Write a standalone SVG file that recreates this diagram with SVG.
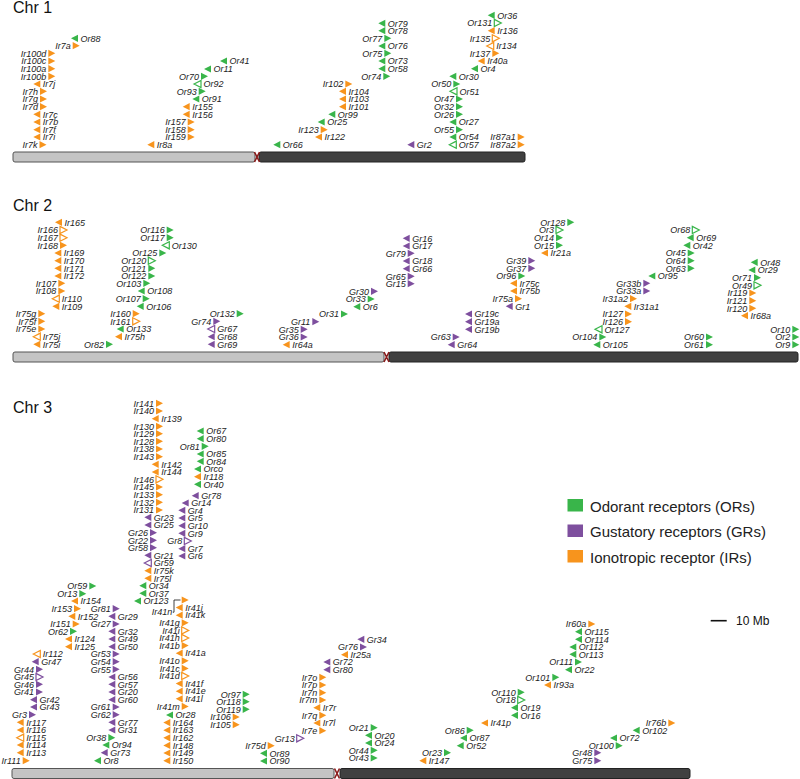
<svg xmlns="http://www.w3.org/2000/svg" xmlns:xlink="http://www.w3.org/1999/xlink" width="800" height="779" viewBox="0 0 800 779">
<style>
text{font-family:"Liberation Sans",Arial,sans-serif}
.n text{font-size:9px;font-style:italic;fill:#222}
.R text{text-anchor:end}
.g{color:#39b54a}.p{color:#7e4f9e}.o{color:#f7941d}
.n use{fill:currentColor}
.h use{fill:#fff;stroke:currentColor;stroke-width:1.2}
.t{font-size:16px;fill:#111}
.lg{font-size:15px;fill:#222}
.a1{fill:#c4c4c4;stroke:#555;stroke-width:1}
.a2{fill:#404040;stroke:#222;stroke-width:1}
.cen{stroke:#8b1a1a;stroke-width:1.6;fill:none}
</style>
<defs>
<path id="R" d="M0-3.6L7 0L0 3.6Z"/>
<path id="L" d="M0 0L7-3.6L7 3.6Z"/>
</defs>
<rect width="800" height="779" fill="#fff"/>
<text class="t" x="13" y="13.3">Chr 1</text>
<text class="t" x="13" y="210.5">Chr 2</text>
<text class="t" x="13" y="413.3">Chr 3</text>
<g id="chromosomes">
<rect class="a1" x="13" y="152" width="242" height="10" rx="2"/>
<rect class="a2" x="259" y="152" width="266" height="10" rx="2"/>
<path class="cen" d="M254.5 152L259.5 162M259.5 152L254.5 162"/>
<rect class="a1" x="13" y="352" width="371" height="10" rx="2"/>
<rect class="a2" x="389" y="352" width="409" height="10" rx="2"/>
<path class="cen" d="M384 352L389 362M389 352L384 362"/>
<rect class="a1" x="12" y="768.5" width="322" height="10" rx="2"/>
<rect class="a2" x="340" y="768.5" width="350" height="10" rx="2"/>
<path class="cen" d="M334.5 768.5L339.5 778.5M339.5 768.5L334.5 778.5"/>
</g>
<g id="connectors">
<path d="M172.8 612.2H174V600H180.5" fill="none" stroke="#111" stroke-width="0.8"/>
</g>
<g id="chr1">
<g id="Or88" class="n L g" transform="translate(71 38.3)"><use href="#L"/><text x="9.5" y="3.2">Or88</text></g>
<g id="Ir7a" class="n R o" transform="translate(72.7 45.7)"><use href="#R"/><text x="-2" y="3.2">Ir7a</text></g>
<g id="Ir100d" class="n R o" transform="translate(48.3 53.3)"><use href="#R"/><text x="-2" y="3.2">Ir100d</text></g>
<g id="Ir100c" class="n R o" transform="translate(48.3 61)"><use href="#R"/><text x="-2" y="3.2">Ir100c</text></g>
<g id="Ir100a" class="n R o" transform="translate(48.3 68.7)"><use href="#R"/><text x="-2" y="3.2">Ir100a</text></g>
<g id="Ir100b" class="n R o" transform="translate(48.3 76.3)"><use href="#R"/><text x="-2" y="3.2">Ir100b</text></g>
<g id="Ir7j" class="n L o" transform="translate(33.3 84)"><use href="#L"/><text x="9.5" y="3.2">Ir7j</text></g>
<g id="Ir7h" class="n R o" transform="translate(40 91.3)"><use href="#R"/><text x="-2" y="3.2">Ir7h</text></g>
<g id="Ir7g" class="n R o" transform="translate(40 99)"><use href="#R"/><text x="-2" y="3.2">Ir7g</text></g>
<g id="Ir7d" class="n R o" transform="translate(40 106.7)"><use href="#R"/><text x="-2" y="3.2">Ir7d</text></g>
<g id="Ir7c" class="n L o" transform="translate(33.3 114.3)"><use href="#L"/><text x="9.5" y="3.2">Ir7c</text></g>
<g id="Ir7b" class="n L o" transform="translate(33.3 122)"><use href="#L"/><text x="9.5" y="3.2">Ir7b</text></g>
<g id="Ir7f" class="n L o" transform="translate(33.3 129.7)"><use href="#L"/><text x="9.5" y="3.2">Ir7f</text></g>
<g id="Ir7i" class="n L o" transform="translate(33.3 137)"><use href="#L"/><text x="9.5" y="3.2">Ir7i</text></g>
<g id="Ir7k" class="n R o" transform="translate(39.5 144.7)"><use href="#R"/><text x="-2" y="3.2">Ir7k</text></g>
<g id="Or41" class="n L g" transform="translate(220 61)"><use href="#L"/><text x="9.5" y="3.2">Or41</text></g>
<g id="Or11" class="n L g" transform="translate(204 69)"><use href="#L"/><text x="9.5" y="3.2">Or11</text></g>
<g id="Or70" class="n R g" transform="translate(201 76.3)"><use href="#R"/><text x="-2" y="3.2">Or70</text></g>
<g id="Or92" class="n L g h" transform="translate(194 84)"><use href="#L"/><text x="9.5" y="3.2">Or92</text></g>
<g id="Or93" class="n R g" transform="translate(198.7 91.3)"><use href="#R"/><text x="-2" y="3.2">Or93</text></g>
<g id="Or91" class="n L g" transform="translate(192.3 99)"><use href="#L"/><text x="9.5" y="3.2">Or91</text></g>
<g id="Ir155" class="n L o" transform="translate(182.7 106.7)"><use href="#L"/><text x="9.5" y="3.2">Ir155</text></g>
<g id="Ir156" class="n L o" transform="translate(182.7 114.3)"><use href="#L"/><text x="9.5" y="3.2">Ir156</text></g>
<g id="Ir157" class="n R o" transform="translate(187.7 122)"><use href="#R"/><text x="-2" y="3.2">Ir157</text></g>
<g id="Ir158" class="n R o" transform="translate(187.7 129.7)"><use href="#R"/><text x="-2" y="3.2">Ir158</text></g>
<g id="Ir159" class="n R o" transform="translate(187.7 137)"><use href="#R"/><text x="-2" y="3.2">Ir159</text></g>
<g id="Ir8a" class="n L o" transform="translate(147.3 144.7)"><use href="#L"/><text x="9.5" y="3.2">Ir8a</text></g>
<g id="Or79" class="n L g" transform="translate(378.3 23.3)"><use href="#L"/><text x="9.5" y="3.2">Or79</text></g>
<g id="Or78" class="n L g" transform="translate(378.3 30.7)"><use href="#L"/><text x="9.5" y="3.2">Or78</text></g>
<g id="Or77" class="n R g" transform="translate(384.3 38.3)"><use href="#R"/><text x="-2" y="3.2">Or77</text></g>
<g id="Or76" class="n L g" transform="translate(378.3 46)"><use href="#L"/><text x="9.5" y="3.2">Or76</text></g>
<g id="Or75" class="n R g" transform="translate(384.3 53.3)"><use href="#R"/><text x="-2" y="3.2">Or75</text></g>
<g id="Or73" class="n L g" transform="translate(378.3 61)"><use href="#L"/><text x="9.5" y="3.2">Or73</text></g>
<g id="Or58" class="n L g" transform="translate(378.3 68.7)"><use href="#L"/><text x="9.5" y="3.2">Or58</text></g>
<g id="Or74" class="n R g" transform="translate(383.3 76.3)"><use href="#R"/><text x="-2" y="3.2">Or74</text></g>
<g id="Ir102" class="n R o" transform="translate(345.3 84)"><use href="#R"/><text x="-2" y="3.2">Ir102</text></g>
<g id="Ir104" class="n L o" transform="translate(339 91.3)"><use href="#L"/><text x="9.5" y="3.2">Ir104</text></g>
<g id="Ir103" class="n L o" transform="translate(339 99)"><use href="#L"/><text x="9.5" y="3.2">Ir103</text></g>
<g id="Ir101" class="n L o" transform="translate(339 106.7)"><use href="#L"/><text x="9.5" y="3.2">Ir101</text></g>
<g id="Or99" class="n L g" transform="translate(328.3 114.3)"><use href="#L"/><text x="9.5" y="3.2">Or99</text></g>
<g id="Or25" class="n L g" transform="translate(317.7 122)"><use href="#L"/><text x="9.5" y="3.2">Or25</text></g>
<g id="Ir123" class="n R o" transform="translate(320.7 129.7)"><use href="#R"/><text x="-2" y="3.2">Ir123</text></g>
<g id="Ir122" class="n L o" transform="translate(315 137)"><use href="#L"/><text x="9.5" y="3.2">Ir122</text></g>
<g id="Or66" class="n L g" transform="translate(273.3 144.7)"><use href="#L"/><text x="9.5" y="3.2">Or66</text></g>
<g id="Gr2" class="n L p" transform="translate(407.3 144.7)"><use href="#L"/><text x="9.5" y="3.2">Gr2</text></g>
<g id="Or36" class="n L g" transform="translate(487.7 15.3)"><use href="#L"/><text x="9.5" y="3.2">Or36</text></g>
<g id="Or131" class="n R g h" transform="translate(494.3 23)"><use href="#R"/><text x="-2" y="3.2">Or131</text></g>
<g id="Ir136" class="n L o" transform="translate(487.7 30.7)"><use href="#L"/><text x="9.5" y="3.2">Ir136</text></g>
<g id="Ir135" class="n R o h" transform="translate(492.3 38.3)"><use href="#R"/><text x="-2" y="3.2">Ir135</text></g>
<g id="Ir134" class="n L o h" transform="translate(486.7 46)"><use href="#L"/><text x="9.5" y="3.2">Ir134</text></g>
<g id="Ir137" class="n R o" transform="translate(492.3 53.3)"><use href="#R"/><text x="-2" y="3.2">Ir137</text></g>
<g id="Ir40a" class="n L o" transform="translate(477.7 61)"><use href="#L"/><text x="9.5" y="3.2">Ir40a</text></g>
<g id="Or4" class="n L g" transform="translate(471 68.7)"><use href="#L"/><text x="9.5" y="3.2">Or4</text></g>
<g id="Or30" class="n L g" transform="translate(449.3 76.3)"><use href="#L"/><text x="9.5" y="3.2">Or30</text></g>
<g id="Or50" class="n R g" transform="translate(453.3 84)"><use href="#R"/><text x="-2" y="3.2">Or50</text></g>
<g id="Or51" class="n L g h" transform="translate(450 91.3)"><use href="#L"/><text x="9.5" y="3.2">Or51</text></g>
<g id="Or47" class="n R g" transform="translate(456 99)"><use href="#R"/><text x="-2" y="3.2">Or47</text></g>
<g id="Or32" class="n R g" transform="translate(456 106.7)"><use href="#R"/><text x="-2" y="3.2">Or32</text></g>
<g id="Or26" class="n R g" transform="translate(456 114.3)"><use href="#R"/><text x="-2" y="3.2">Or26</text></g>
<g id="Or27" class="n L g" transform="translate(449.3 122)"><use href="#L"/><text x="9.5" y="3.2">Or27</text></g>
<g id="Or55" class="n R g" transform="translate(456 129.7)"><use href="#R"/><text x="-2" y="3.2">Or55</text></g>
<g id="Or54" class="n L g" transform="translate(449.3 137)"><use href="#L"/><text x="9.5" y="3.2">Or54</text></g>
<g id="Or57" class="n L g h" transform="translate(449.3 144.7)"><use href="#L"/><text x="9.5" y="3.2">Or57</text></g>
<g id="Ir87a1" class="n R o" transform="translate(517.7 137)"><use href="#R"/><text x="-2" y="3.2">Ir87a1</text></g>
<g id="Ir87a2" class="n R o" transform="translate(517.7 144.7)"><use href="#R"/><text x="-2" y="3.2">Ir87a2</text></g>
</g>
<g id="chr2">
<g id="Ir165" class="n L o" transform="translate(55 222.3)"><use href="#L"/><text x="9.5" y="3.2">Ir165</text></g>
<g id="Ir166" class="n R o h" transform="translate(60 230)"><use href="#R"/><text x="-2" y="3.2">Ir166</text></g>
<g id="Ir167" class="n R o h" transform="translate(60 237.7)"><use href="#R"/><text x="-2" y="3.2">Ir167</text></g>
<g id="Ir168" class="n R o" transform="translate(60 245.3)"><use href="#R"/><text x="-2" y="3.2">Ir168</text></g>
<g id="Ir169" class="n L o" transform="translate(54.3 253)"><use href="#L"/><text x="9.5" y="3.2">Ir169</text></g>
<g id="Ir170" class="n L o" transform="translate(54.3 260.7)"><use href="#L"/><text x="9.5" y="3.2">Ir170</text></g>
<g id="Ir171" class="n L o" transform="translate(54.3 268.3)"><use href="#L"/><text x="9.5" y="3.2">Ir171</text></g>
<g id="Ir172" class="n L o" transform="translate(54.3 276)"><use href="#L"/><text x="9.5" y="3.2">Ir172</text></g>
<g id="Ir107" class="n R o" transform="translate(58.3 283.3)"><use href="#R"/><text x="-2" y="3.2">Ir107</text></g>
<g id="Ir108" class="n R o" transform="translate(58.3 291)"><use href="#R"/><text x="-2" y="3.2">Ir108</text></g>
<g id="Ir110" class="n L o h" transform="translate(52.3 298.7)"><use href="#L"/><text x="9.5" y="3.2">Ir110</text></g>
<g id="Ir109" class="n L o" transform="translate(52.3 306.3)"><use href="#L"/><text x="9.5" y="3.2">Ir109</text></g>
<g id="Ir75g" class="n R o" transform="translate(38.3 313.7)"><use href="#R"/><text x="-2" y="3.2">Ir75g</text></g>
<g id="Ir75f" class="n R o" transform="translate(38.3 321.3)"><use href="#R"/><text x="-2" y="3.2">Ir75f</text></g>
<g id="Ir75e" class="n R o" transform="translate(38.3 329)"><use href="#R"/><text x="-2" y="3.2">Ir75e</text></g>
<g id="Ir75j" class="n L o h" transform="translate(33.3 336.7)"><use href="#L"/><text x="9.5" y="3.2">Ir75j</text></g>
<g id="Ir75i" class="n L o" transform="translate(33.3 344.3)"><use href="#L"/><text x="9.5" y="3.2">Ir75i</text></g>
<g id="Or116" class="n R g" transform="translate(166.7 230)"><use href="#R"/><text x="-2" y="3.2">Or116</text></g>
<g id="Or117" class="n R g" transform="translate(166.7 237.7)"><use href="#R"/><text x="-2" y="3.2">Or117</text></g>
<g id="Or130" class="n L g h" transform="translate(162.3 245.3)"><use href="#L"/><text x="9.5" y="3.2">Or130</text></g>
<g id="Or125" class="n R g" transform="translate(159.3 253)"><use href="#R"/><text x="-2" y="3.2">Or125</text></g>
<g id="Or120" class="n R g h" transform="translate(148.3 260.7)"><use href="#R"/><text x="-2" y="3.2">Or120</text></g>
<g id="Or121" class="n R g" transform="translate(148.3 268.3)"><use href="#R"/><text x="-2" y="3.2">Or121</text></g>
<g id="Or122" class="n R g" transform="translate(148.3 276)"><use href="#R"/><text x="-2" y="3.2">Or122</text></g>
<g id="Or103" class="n R g" transform="translate(143.3 283.3)"><use href="#R"/><text x="-2" y="3.2">Or103</text></g>
<g id="Or108" class="n L g" transform="translate(137.7 291)"><use href="#L"/><text x="9.5" y="3.2">Or108</text></g>
<g id="Or107" class="n R g" transform="translate(142.7 298.7)"><use href="#R"/><text x="-2" y="3.2">Or107</text></g>
<g id="Or106" class="n L g" transform="translate(136.7 306.3)"><use href="#L"/><text x="9.5" y="3.2">Or106</text></g>
<g id="Ir160" class="n R o" transform="translate(132.7 313.7)"><use href="#R"/><text x="-2" y="3.2">Ir160</text></g>
<g id="Ir161" class="n R o h" transform="translate(132.7 321.3)"><use href="#R"/><text x="-2" y="3.2">Ir161</text></g>
<g id="Or133" class="n L g" transform="translate(116.7 329)"><use href="#L"/><text x="9.5" y="3.2">Or133</text></g>
<g id="Ir75h" class="n L o" transform="translate(115 336.7)"><use href="#L"/><text x="9.5" y="3.2">Ir75h</text></g>
<g id="Or82" class="n R g" transform="translate(106 344.3)"><use href="#R"/><text x="-2" y="3.2">Or82</text></g>
<g id="Or132" class="n R g" transform="translate(236.7 313.7)"><use href="#R"/><text x="-2" y="3.2">Or132</text></g>
<g id="Gr74" class="n R p" transform="translate(213.3 321.3)"><use href="#R"/><text x="-2" y="3.2">Gr74</text></g>
<g id="Gr67" class="n L p h" transform="translate(207.7 329)"><use href="#L"/><text x="9.5" y="3.2">Gr67</text></g>
<g id="Gr68" class="n L p" transform="translate(207.7 336.7)"><use href="#L"/><text x="9.5" y="3.2">Gr68</text></g>
<g id="Gr69" class="n L p" transform="translate(207.7 344.3)"><use href="#L"/><text x="9.5" y="3.2">Gr69</text></g>
<g id="Gr16" class="n L p" transform="translate(402.7 238.3)"><use href="#L"/><text x="9.5" y="3.2">Gr16</text></g>
<g id="Gr17" class="n L p" transform="translate(402.7 246)"><use href="#L"/><text x="9.5" y="3.2">Gr17</text></g>
<g id="Gr79" class="n R p" transform="translate(407.7 253.3)"><use href="#R"/><text x="-2" y="3.2">Gr79</text></g>
<g id="Gr18" class="n L p" transform="translate(402.7 261)"><use href="#L"/><text x="9.5" y="3.2">Gr18</text></g>
<g id="Gr66" class="n L p" transform="translate(402.7 268.7)"><use href="#L"/><text x="9.5" y="3.2">Gr66</text></g>
<g id="Gr65" class="n R p" transform="translate(407.7 276.3)"><use href="#R"/><text x="-2" y="3.2">Gr65</text></g>
<g id="Gr15" class="n R p" transform="translate(407.7 283.7)"><use href="#R"/><text x="-2" y="3.2">Gr15</text></g>
<g id="Gr30" class="n R p" transform="translate(371 291.3)"><use href="#R"/><text x="-2" y="3.2">Gr30</text></g>
<g id="Or33" class="n R g" transform="translate(367.7 299)"><use href="#R"/><text x="-2" y="3.2">Or33</text></g>
<g id="Or6" class="n L g" transform="translate(353.3 306.7)"><use href="#L"/><text x="9.5" y="3.2">Or6</text></g>
<g id="Or31" class="n R g" transform="translate(341 314)"><use href="#R"/><text x="-2" y="3.2">Or31</text></g>
<g id="Gr11" class="n R p" transform="translate(312.3 321.7)"><use href="#R"/><text x="-2" y="3.2">Gr11</text></g>
<g id="Gr35" class="n R p" transform="translate(300.7 329.3)"><use href="#R"/><text x="-2" y="3.2">Gr35</text></g>
<g id="Gr36" class="n R p" transform="translate(300.7 337)"><use href="#R"/><text x="-2" y="3.2">Gr36</text></g>
<g id="Ir64a" class="n L o" transform="translate(282.7 344.7)"><use href="#L"/><text x="9.5" y="3.2">Ir64a</text></g>
<g id="Gr39" class="n R p" transform="translate(528.3 260.7)"><use href="#R"/><text x="-2" y="3.2">Gr39</text></g>
<g id="Gr37" class="n R p" transform="translate(528.3 268.3)"><use href="#R"/><text x="-2" y="3.2">Gr37</text></g>
<g id="Or96" class="n R g" transform="translate(518.3 276)"><use href="#R"/><text x="-2" y="3.2">Or96</text></g>
<g id="Ir75c" class="n L o" transform="translate(510 283.3)"><use href="#L"/><text x="9.5" y="3.2">Ir75c</text></g>
<g id="Ir75b" class="n L o" transform="translate(510 291)"><use href="#L"/><text x="9.5" y="3.2">Ir75b</text></g>
<g id="Ir75a" class="n R o" transform="translate(515 298.7)"><use href="#R"/><text x="-2" y="3.2">Ir75a</text></g>
<g id="Gr1" class="n L p" transform="translate(505.7 306.3)"><use href="#L"/><text x="9.5" y="3.2">Gr1</text></g>
<g id="Gr19c" class="n L p" transform="translate(465 314)"><use href="#L"/><text x="9.5" y="3.2">Gr19c</text></g>
<g id="Gr19a" class="n L p" transform="translate(465 321.7)"><use href="#L"/><text x="9.5" y="3.2">Gr19a</text></g>
<g id="Gr19b" class="n L p" transform="translate(465 329.3)"><use href="#L"/><text x="9.5" y="3.2">Gr19b</text></g>
<g id="Gr63" class="n R p" transform="translate(452.7 337)"><use href="#R"/><text x="-2" y="3.2">Gr63</text></g>
<g id="Gr64" class="n L p" transform="translate(447.7 344.7)"><use href="#L"/><text x="9.5" y="3.2">Gr64</text></g>
<g id="Or128" class="n R g" transform="translate(567.3 222.3)"><use href="#R"/><text x="-2" y="3.2">Or128</text></g>
<g id="Or3" class="n R g h" transform="translate(556 230)"><use href="#R"/><text x="-2" y="3.2">Or3</text></g>
<g id="Or14" class="n R g" transform="translate(556 237.7)"><use href="#R"/><text x="-2" y="3.2">Or14</text></g>
<g id="Or15" class="n R g" transform="translate(556 245.3)"><use href="#R"/><text x="-2" y="3.2">Or15</text></g>
<g id="Ir21a" class="n L o" transform="translate(541 253)"><use href="#L"/><text x="9.5" y="3.2">Ir21a</text></g>
<g id="Or68" class="n R g h" transform="translate(692.3 230)"><use href="#R"/><text x="-2" y="3.2">Or68</text></g>
<g id="Or69" class="n L g" transform="translate(686.7 237.7)"><use href="#L"/><text x="9.5" y="3.2">Or69</text></g>
<g id="Or42" class="n L g" transform="translate(683.3 245.3)"><use href="#L"/><text x="9.5" y="3.2">Or42</text></g>
<g id="Or45" class="n R g" transform="translate(687.7 253)"><use href="#R"/><text x="-2" y="3.2">Or45</text></g>
<g id="Or64" class="n R g" transform="translate(687.7 260.7)"><use href="#R"/><text x="-2" y="3.2">Or64</text></g>
<g id="Or63" class="n R g" transform="translate(687.7 268.3)"><use href="#R"/><text x="-2" y="3.2">Or63</text></g>
<g id="Or95" class="n L g" transform="translate(648.3 276)"><use href="#L"/><text x="9.5" y="3.2">Or95</text></g>
<g id="Gr33b" class="n R p" transform="translate(643.3 283.3)"><use href="#R"/><text x="-2" y="3.2">Gr33b</text></g>
<g id="Gr33a" class="n R p" transform="translate(643.3 291)"><use href="#R"/><text x="-2" y="3.2">Gr33a</text></g>
<g id="Ir31a2" class="n R o" transform="translate(630 298.7)"><use href="#R"/><text x="-2" y="3.2">Ir31a2</text></g>
<g id="Ir31a1" class="n L o" transform="translate(624.3 306.3)"><use href="#L"/><text x="9.5" y="3.2">Ir31a1</text></g>
<g id="Ir127" class="n R o" transform="translate(625 314)"><use href="#R"/><text x="-2" y="3.2">Ir127</text></g>
<g id="Ir126" class="n R o" transform="translate(625 321.7)"><use href="#R"/><text x="-2" y="3.2">Ir126</text></g>
<g id="Or127" class="n L g h" transform="translate(595 329.3)"><use href="#L"/><text x="9.5" y="3.2">Or127</text></g>
<g id="Or104" class="n R g" transform="translate(599.3 337)"><use href="#R"/><text x="-2" y="3.2">Or104</text></g>
<g id="Or105" class="n L g" transform="translate(593.3 344.7)"><use href="#L"/><text x="9.5" y="3.2">Or105</text></g>
<g id="Or48" class="n L g" transform="translate(750.7 262.3)"><use href="#L"/><text x="9.5" y="3.2">Or48</text></g>
<g id="Or29" class="n L g" transform="translate(748.3 270)"><use href="#L"/><text x="9.5" y="3.2">Or29</text></g>
<g id="Or71" class="n R g" transform="translate(754 277.7)"><use href="#R"/><text x="-2" y="3.2">Or71</text></g>
<g id="Or49" class="n R g h" transform="translate(754 285.3)"><use href="#R"/><text x="-2" y="3.2">Or49</text></g>
<g id="Ir119" class="n R o" transform="translate(749.3 293)"><use href="#R"/><text x="-2" y="3.2">Ir119</text></g>
<g id="Ir121" class="n R o" transform="translate(749.3 300.7)"><use href="#R"/><text x="-2" y="3.2">Ir121</text></g>
<g id="Ir120" class="n R o" transform="translate(749.3 308.3)"><use href="#R"/><text x="-2" y="3.2">Ir120</text></g>
<g id="Ir68a" class="n L o" transform="translate(741 315.7)"><use href="#L"/><text x="9.5" y="3.2">Ir68a</text></g>
<g id="Or60" class="n R g" transform="translate(706 337)"><use href="#R"/><text x="-2" y="3.2">Or60</text></g>
<g id="Or61" class="n R g" transform="translate(706 344.7)"><use href="#R"/><text x="-2" y="3.2">Or61</text></g>
<g id="Or10" class="n R g" transform="translate(792.3 329.3)"><use href="#R"/><text x="-2" y="3.2">Or10</text></g>
<g id="Or2" class="n R g" transform="translate(792.3 337)"><use href="#R"/><text x="-2" y="3.2">Or2</text></g>
<g id="Or9" class="n R g" transform="translate(792.3 344.7)"><use href="#R"/><text x="-2" y="3.2">Or9</text></g>
</g>
<g id="chr3">
<g id="Ir141" class="n R o" transform="translate(156 403.3)"><use href="#R"/><text x="-2" y="3.2">Ir141</text></g>
<g id="Ir140" class="n R o" transform="translate(156 411)"><use href="#R"/><text x="-2" y="3.2">Ir140</text></g>
<g id="Ir139" class="n L o" transform="translate(151.7 418.7)"><use href="#L"/><text x="9.5" y="3.2">Ir139</text></g>
<g id="Ir130" class="n R o" transform="translate(156 426.3)"><use href="#R"/><text x="-2" y="3.2">Ir130</text></g>
<g id="Ir129" class="n R o" transform="translate(156 433.7)"><use href="#R"/><text x="-2" y="3.2">Ir129</text></g>
<g id="Ir128" class="n R o" transform="translate(156 441.3)"><use href="#R"/><text x="-2" y="3.2">Ir128</text></g>
<g id="Ir138" class="n R o" transform="translate(156 449)"><use href="#R"/><text x="-2" y="3.2">Ir138</text></g>
<g id="Ir143" class="n R o" transform="translate(156 456.7)"><use href="#R"/><text x="-2" y="3.2">Ir143</text></g>
<g id="Ir142" class="n L o" transform="translate(151.7 464.3)"><use href="#L"/><text x="9.5" y="3.2">Ir142</text></g>
<g id="Ir144" class="n L o" transform="translate(151.7 472)"><use href="#L"/><text x="9.5" y="3.2">Ir144</text></g>
<g id="Ir146" class="n R o h" transform="translate(156 479.3)"><use href="#R"/><text x="-2" y="3.2">Ir146</text></g>
<g id="Ir145" class="n R o" transform="translate(156 487)"><use href="#R"/><text x="-2" y="3.2">Ir145</text></g>
<g id="Ir133" class="n R o" transform="translate(156 494.7)"><use href="#R"/><text x="-2" y="3.2">Ir133</text></g>
<g id="Ir132" class="n R o" transform="translate(156 502.3)"><use href="#R"/><text x="-2" y="3.2">Ir132</text></g>
<g id="Ir131" class="n R o" transform="translate(156 510)"><use href="#R"/><text x="-2" y="3.2">Ir131</text></g>
<g id="Gr23" class="n L p" transform="translate(144.3 517.3)"><use href="#L"/><text x="9.5" y="3.2">Gr23</text></g>
<g id="Gr25" class="n L p" transform="translate(144.3 525)"><use href="#L"/><text x="9.5" y="3.2">Gr25</text></g>
<g id="Gr26" class="n R p" transform="translate(150 532.7)"><use href="#R"/><text x="-2" y="3.2">Gr26</text></g>
<g id="Gr22" class="n R p" transform="translate(150 540.3)"><use href="#R"/><text x="-2" y="3.2">Gr22</text></g>
<g id="Gr58" class="n R p" transform="translate(150 547.7)"><use href="#R"/><text x="-2" y="3.2">Gr58</text></g>
<g id="Gr21" class="n L p" transform="translate(144.3 555.3)"><use href="#L"/><text x="9.5" y="3.2">Gr21</text></g>
<g id="Gr59" class="n L p h" transform="translate(144.3 563)"><use href="#L"/><text x="9.5" y="3.2">Gr59</text></g>
<g id="Ir75k" class="n L o" transform="translate(144.3 570.7)"><use href="#L"/><text x="9.5" y="3.2">Ir75k</text></g>
<g id="Ir75l" class="n L o" transform="translate(144.3 578.3)"><use href="#L"/><text x="9.5" y="3.2">Ir75l</text></g>
<g id="Or34" class="n L g" transform="translate(139.3 585.7)"><use href="#L"/><text x="9.5" y="3.2">Or34</text></g>
<g id="Or37" class="n L g" transform="translate(139.3 593.3)"><use href="#L"/><text x="9.5" y="3.2">Or37</text></g>
<g id="Or123" class="n L g" transform="translate(134 601)"><use href="#L"/><text x="9.5" y="3.2">Or123</text></g>
<g id="Or67" class="n L g" transform="translate(196.7 431)"><use href="#L"/><text x="9.5" y="3.2">Or67</text></g>
<g id="Or80" class="n L g" transform="translate(196.7 438.7)"><use href="#L"/><text x="9.5" y="3.2">Or80</text></g>
<g id="Or81" class="n R g" transform="translate(201.7 446.3)"><use href="#R"/><text x="-2" y="3.2">Or81</text></g>
<g id="Or85" class="n L g" transform="translate(196.7 454)"><use href="#L"/><text x="9.5" y="3.2">Or85</text></g>
<g id="Or84" class="n L g" transform="translate(196.7 461.3)"><use href="#L"/><text x="9.5" y="3.2">Or84</text></g>
<g id="Orco" class="n L g" transform="translate(194 469)"><use href="#L"/><text x="9.5" y="3.2">Orco</text></g>
<g id="Ir118" class="n L o" transform="translate(194 476.7)"><use href="#L"/><text x="9.5" y="3.2">Ir118</text></g>
<g id="Or40" class="n L g" transform="translate(194 484.3)"><use href="#L"/><text x="9.5" y="3.2">Or40</text></g>
<g id="Gr78" class="n L p" transform="translate(191.7 495.7)"><use href="#L"/><text x="9.5" y="3.2">Gr78</text></g>
<g id="Gr14" class="n L p" transform="translate(181.7 503)"><use href="#L"/><text x="9.5" y="3.2">Gr14</text></g>
<g id="Gr4" class="n L p" transform="translate(178.3 510.3)"><use href="#L"/><text x="9.5" y="3.2">Gr4</text></g>
<g id="Gr5" class="n L p" transform="translate(178.3 518)"><use href="#L"/><text x="9.5" y="3.2">Gr5</text></g>
<g id="Gr10" class="n L p" transform="translate(178.3 525.7)"><use href="#L"/><text x="9.5" y="3.2">Gr10</text></g>
<g id="Gr9" class="n L p" transform="translate(178.3 533.3)"><use href="#L"/><text x="9.5" y="3.2">Gr9</text></g>
<g id="Gr8" class="n R p h" transform="translate(184.3 541)"><use href="#R"/><text x="-2" y="3.2">Gr8</text></g>
<g id="Gr7" class="n L p" transform="translate(178.3 548.7)"><use href="#L"/><text x="9.5" y="3.2">Gr7</text></g>
<g id="Gr6" class="n L p" transform="translate(178.3 556)"><use href="#L"/><text x="9.5" y="3.2">Gr6</text></g>
<g id="Ir41n" class="n R o" transform="translate(181.7 600)"><use href="#R"/><text x="-9.4" y="14.9">Ir41n</text></g>
<g id="Ir41j" class="n L o" transform="translate(175.7 607.6)"><use href="#L"/><text x="9.5" y="3.2">Ir41j</text></g>
<g id="Ir41k" class="n L o" transform="translate(175.7 615.2)"><use href="#L"/><text x="9.5" y="3.2">Ir41k</text></g>
<g id="Ir41g" class="n R o" transform="translate(181.7 622.8)"><use href="#R"/><text x="-2" y="3.2">Ir41g</text></g>
<g id="Ir41i" class="n R o h" transform="translate(181.7 630.4)"><use href="#R"/><text x="-2" y="3.2">Ir41i</text></g>
<g id="Ir41h" class="n R o h" transform="translate(181.7 638)"><use href="#R"/><text x="-2" y="3.2">Ir41h</text></g>
<g id="Ir41b" class="n R o" transform="translate(181.7 645.6)"><use href="#R"/><text x="-2" y="3.2">Ir41b</text></g>
<g id="Ir41a" class="n L o" transform="translate(175.7 653.2)"><use href="#L"/><text x="9.5" y="3.2">Ir41a</text></g>
<g id="Ir41o" class="n R o" transform="translate(181.7 660.8)"><use href="#R"/><text x="-2" y="3.2">Ir41o</text></g>
<g id="Ir41c" class="n R o" transform="translate(181.7 668.4)"><use href="#R"/><text x="-2" y="3.2">Ir41c</text></g>
<g id="Ir41d" class="n R o h" transform="translate(181.7 676)"><use href="#R"/><text x="-2" y="3.2">Ir41d</text></g>
<g id="Ir41f" class="n L o" transform="translate(175.7 683.6)"><use href="#L"/><text x="9.5" y="3.2">Ir41f</text></g>
<g id="Ir41e" class="n L o" transform="translate(175.7 691.2)"><use href="#L"/><text x="9.5" y="3.2">Ir41e</text></g>
<g id="Ir41l" class="n L o" transform="translate(175.7 698.8)"><use href="#L"/><text x="9.5" y="3.2">Ir41l</text></g>
<g id="Ir41m" class="n R o" transform="translate(181.7 706.4)"><use href="#R"/><text x="-2" y="3.2">Ir41m</text></g>
<g id="Or28" class="n L g" transform="translate(166 715)"><use href="#L"/><text x="9.5" y="3.2">Or28</text></g>
<g id="Ir164" class="n L o" transform="translate(163.3 722.6)"><use href="#L"/><text x="9.5" y="3.2">Ir164</text></g>
<g id="Ir163" class="n L o" transform="translate(163.3 730.2)"><use href="#L"/><text x="9.5" y="3.2">Ir163</text></g>
<g id="Ir162" class="n L o" transform="translate(163.3 737.8)"><use href="#L"/><text x="9.5" y="3.2">Ir162</text></g>
<g id="Ir148" class="n L o" transform="translate(163.3 745.4)"><use href="#L"/><text x="9.5" y="3.2">Ir148</text></g>
<g id="Ir149" class="n L o" transform="translate(163.3 753)"><use href="#L"/><text x="9.5" y="3.2">Ir149</text></g>
<g id="Ir150" class="n L o" transform="translate(163.3 760.7)"><use href="#L"/><text x="9.5" y="3.2">Ir150</text></g>
<g id="Or97" class="n R g" transform="translate(242.7 694.3)"><use href="#R"/><text x="-2" y="3.2">Or97</text></g>
<g id="Or118" class="n R g" transform="translate(242.7 701.7)"><use href="#R"/><text x="-2" y="3.2">Or118</text></g>
<g id="Or119" class="n R g" transform="translate(242.7 709.3)"><use href="#R"/><text x="-2" y="3.2">Or119</text></g>
<g id="Ir106" class="n R o" transform="translate(232.7 717)"><use href="#R"/><text x="-2" y="3.2">Ir106</text></g>
<g id="Ir105" class="n R o" transform="translate(232.7 724.7)"><use href="#R"/><text x="-2" y="3.2">Ir105</text></g>
<g id="Or59" class="n R g" transform="translate(89.3 586)"><use href="#R"/><text x="-2" y="3.2">Or59</text></g>
<g id="Or13" class="n R g" transform="translate(79.3 593.7)"><use href="#R"/><text x="-2" y="3.2">Or13</text></g>
<g id="Ir154" class="n L o" transform="translate(71 601)"><use href="#L"/><text x="9.5" y="3.2">Ir154</text></g>
<g id="Ir153" class="n R o" transform="translate(74 608.7)"><use href="#R"/><text x="-2" y="3.2">Ir153</text></g>
<g id="Ir152" class="n L o" transform="translate(68.3 616.3)"><use href="#L"/><text x="9.5" y="3.2">Ir152</text></g>
<g id="Ir151" class="n R o" transform="translate(72.7 624)"><use href="#R"/><text x="-2" y="3.2">Ir151</text></g>
<g id="Or62" class="n R g" transform="translate(70 631.3)"><use href="#R"/><text x="-2" y="3.2">Or62</text></g>
<g id="Ir124" class="n L o" transform="translate(65 639)"><use href="#L"/><text x="9.5" y="3.2">Ir124</text></g>
<g id="Ir125" class="n L o" transform="translate(65 646.7)"><use href="#L"/><text x="9.5" y="3.2">Ir125</text></g>
<g id="Ir112" class="n L o h" transform="translate(33.3 654)"><use href="#L"/><text x="9.5" y="3.2">Ir112</text></g>
<g id="Gr47" class="n L p" transform="translate(31.7 661.7)"><use href="#L"/><text x="9.5" y="3.2">Gr47</text></g>
<g id="Gr44" class="n R p" transform="translate(36 669.3)"><use href="#R"/><text x="-2" y="3.2">Gr44</text></g>
<g id="Gr45" class="n R p h" transform="translate(36 677)"><use href="#R"/><text x="-2" y="3.2">Gr45</text></g>
<g id="Gr46" class="n R p" transform="translate(36 684.3)"><use href="#R"/><text x="-2" y="3.2">Gr46</text></g>
<g id="Gr41" class="n R p" transform="translate(36 692)"><use href="#R"/><text x="-2" y="3.2">Gr41</text></g>
<g id="Gr42" class="n L p" transform="translate(30 699.7)"><use href="#L"/><text x="9.5" y="3.2">Gr42</text></g>
<g id="Gr43" class="n L p" transform="translate(30 707)"><use href="#L"/><text x="9.5" y="3.2">Gr43</text></g>
<g id="Gr3" class="n R p" transform="translate(29 714.7)"><use href="#R"/><text x="-2" y="3.2">Gr3</text></g>
<g id="Ir117" class="n L o" transform="translate(16.7 722.3)"><use href="#L"/><text x="9.5" y="3.2">Ir117</text></g>
<g id="Ir116" class="n L o" transform="translate(16.7 730)"><use href="#L"/><text x="9.5" y="3.2">Ir116</text></g>
<g id="Ir115" class="n L o h" transform="translate(16.7 737.7)"><use href="#L"/><text x="9.5" y="3.2">Ir115</text></g>
<g id="Ir114" class="n L o" transform="translate(16.7 745)"><use href="#L"/><text x="9.5" y="3.2">Ir114</text></g>
<g id="Ir113" class="n L o" transform="translate(16.7 752.7)"><use href="#L"/><text x="9.5" y="3.2">Ir113</text></g>
<g id="Ir111" class="n R o" transform="translate(22.7 760.7)"><use href="#R"/><text x="-2" y="3.2">Ir111</text></g>
<g id="Gr81" class="n R p" transform="translate(112.7 608.7)"><use href="#R"/><text x="-2" y="3.2">Gr81</text></g>
<g id="Gr29" class="n L p" transform="translate(108.3 616.3)"><use href="#L"/><text x="9.5" y="3.2">Gr29</text></g>
<g id="Gr27" class="n R p" transform="translate(112.7 624)"><use href="#R"/><text x="-2" y="3.2">Gr27</text></g>
<g id="Gr32" class="n L p" transform="translate(108.3 631.3)"><use href="#L"/><text x="9.5" y="3.2">Gr32</text></g>
<g id="Gr49" class="n L p" transform="translate(108.3 639)"><use href="#L"/><text x="9.5" y="3.2">Gr49</text></g>
<g id="Gr50" class="n L p" transform="translate(108.3 646.7)"><use href="#L"/><text x="9.5" y="3.2">Gr50</text></g>
<g id="Gr53" class="n R p" transform="translate(112.7 654)"><use href="#R"/><text x="-2" y="3.2">Gr53</text></g>
<g id="Gr54" class="n R p" transform="translate(112.7 661.7)"><use href="#R"/><text x="-2" y="3.2">Gr54</text></g>
<g id="Gr55" class="n R p" transform="translate(112.7 669.3)"><use href="#R"/><text x="-2" y="3.2">Gr55</text></g>
<g id="Gr56" class="n L p" transform="translate(108.3 677)"><use href="#L"/><text x="9.5" y="3.2">Gr56</text></g>
<g id="Gr57" class="n L p" transform="translate(108.3 684.3)"><use href="#L"/><text x="9.5" y="3.2">Gr57</text></g>
<g id="Gr20" class="n L p" transform="translate(108.3 692)"><use href="#L"/><text x="9.5" y="3.2">Gr20</text></g>
<g id="Gr60" class="n L p" transform="translate(108.3 699.7)"><use href="#L"/><text x="9.5" y="3.2">Gr60</text></g>
<g id="Gr61" class="n R p" transform="translate(112.7 707)"><use href="#R"/><text x="-2" y="3.2">Gr61</text></g>
<g id="Gr62" class="n R p" transform="translate(112.7 714.7)"><use href="#R"/><text x="-2" y="3.2">Gr62</text></g>
<g id="Gr77" class="n L p" transform="translate(108.3 722.3)"><use href="#L"/><text x="9.5" y="3.2">Gr77</text></g>
<g id="Gr31" class="n L p" transform="translate(108.3 730)"><use href="#L"/><text x="9.5" y="3.2">Gr31</text></g>
<g id="Or38" class="n R g" transform="translate(108.3 737.7)"><use href="#R"/><text x="-2" y="3.2">Or38</text></g>
<g id="Or94" class="n L g" transform="translate(102.3 745)"><use href="#L"/><text x="9.5" y="3.2">Or94</text></g>
<g id="Gr73" class="n L p" transform="translate(100.7 752.7)"><use href="#L"/><text x="9.5" y="3.2">Gr73</text></g>
<g id="Or8" class="n L g" transform="translate(94 760.7)"><use href="#L"/><text x="9.5" y="3.2">Or8</text></g>
<g id="Gr34" class="n L p" transform="translate(357.3 639.3)"><use href="#L"/><text x="9.5" y="3.2">Gr34</text></g>
<g id="Gr76" class="n R p" transform="translate(360 647)"><use href="#R"/><text x="-2" y="3.2">Gr76</text></g>
<g id="Ir25a" class="n L o" transform="translate(341 654.7)"><use href="#L"/><text x="9.5" y="3.2">Ir25a</text></g>
<g id="Gr72" class="n L p" transform="translate(323.3 662)"><use href="#L"/><text x="9.5" y="3.2">Gr72</text></g>
<g id="Gr80" class="n L p" transform="translate(323.3 669.7)"><use href="#L"/><text x="9.5" y="3.2">Gr80</text></g>
<g id="Ir7o" class="n R o" transform="translate(319.3 677.3)"><use href="#R"/><text x="-2" y="3.2">Ir7o</text></g>
<g id="Ir7p" class="n R o" transform="translate(319.3 685)"><use href="#R"/><text x="-2" y="3.2">Ir7p</text></g>
<g id="Ir7n" class="n R o" transform="translate(319.3 692.7)"><use href="#R"/><text x="-2" y="3.2">Ir7n</text></g>
<g id="Ir7m" class="n R o" transform="translate(319.3 700)"><use href="#R"/><text x="-2" y="3.2">Ir7m</text></g>
<g id="Ir7r" class="n L o" transform="translate(313.3 707.7)"><use href="#L"/><text x="9.5" y="3.2">Ir7r</text></g>
<g id="Ir7q" class="n R o" transform="translate(319.3 715.3)"><use href="#R"/><text x="-2" y="3.2">Ir7q</text></g>
<g id="Ir7l" class="n L o" transform="translate(313.3 723)"><use href="#L"/><text x="9.5" y="3.2">Ir7l</text></g>
<g id="Ir7e" class="n R o" transform="translate(319.3 730.7)"><use href="#R"/><text x="-2" y="3.2">Ir7e</text></g>
<g id="Gr13" class="n R p h" transform="translate(296.7 738.3)"><use href="#R"/><text x="-2" y="3.2">Gr13</text></g>
<g id="Ir75d" class="n R o" transform="translate(267.7 745.7)"><use href="#R"/><text x="-2" y="3.2">Ir75d</text></g>
<g id="Or89" class="n L g" transform="translate(260 753.3)"><use href="#L"/><text x="9.5" y="3.2">Or89</text></g>
<g id="Or90" class="n L g" transform="translate(260 761)"><use href="#L"/><text x="9.5" y="3.2">Or90</text></g>
<g id="Or21" class="n R g" transform="translate(370.7 727.7)"><use href="#R"/><text x="-2" y="3.2">Or21</text></g>
<g id="Or20" class="n L g" transform="translate(365 735.3)"><use href="#L"/><text x="9.5" y="3.2">Or20</text></g>
<g id="Or24" class="n L g" transform="translate(365 743)"><use href="#L"/><text x="9.5" y="3.2">Or24</text></g>
<g id="Or44" class="n R g" transform="translate(370.7 750.3)"><use href="#R"/><text x="-2" y="3.2">Or44</text></g>
<g id="Or43" class="n R g" transform="translate(370.7 758)"><use href="#R"/><text x="-2" y="3.2">Or43</text></g>
<g id="Or23" class="n R g" transform="translate(444 752.7)"><use href="#R"/><text x="-2" y="3.2">Or23</text></g>
<g id="Ir147" class="n L o" transform="translate(419.3 760.7)"><use href="#L"/><text x="9.5" y="3.2">Ir147</text></g>
<g id="Ir60a" class="n R o" transform="translate(588.3 624)"><use href="#R"/><text x="-2" y="3.2">Ir60a</text></g>
<g id="Or115" class="n L g" transform="translate(575 631.7)"><use href="#L"/><text x="9.5" y="3.2">Or115</text></g>
<g id="Or114" class="n L g" transform="translate(575 639.3)"><use href="#L"/><text x="9.5" y="3.2">Or114</text></g>
<g id="Or112" class="n L g" transform="translate(569.3 647)"><use href="#L"/><text x="9.5" y="3.2">Or112</text></g>
<g id="Or113" class="n L g" transform="translate(569.3 654.3)"><use href="#L"/><text x="9.5" y="3.2">Or113</text></g>
<g id="Or111" class="n R g" transform="translate(575 662)"><use href="#R"/><text x="-2" y="3.2">Or111</text></g>
<g id="Or22" class="n L g" transform="translate(565 669.7)"><use href="#L"/><text x="9.5" y="3.2">Or22</text></g>
<g id="Or101" class="n R g" transform="translate(552.3 677.3)"><use href="#R"/><text x="-2" y="3.2">Or101</text></g>
<g id="Ir93a" class="n L o" transform="translate(544 685)"><use href="#L"/><text x="9.5" y="3.2">Ir93a</text></g>
<g id="Or110" class="n R g" transform="translate(517.7 692.3)"><use href="#R"/><text x="-2" y="3.2">Or110</text></g>
<g id="Or18" class="n R g h" transform="translate(517.7 700)"><use href="#R"/><text x="-2" y="3.2">Or18</text></g>
<g id="Or19" class="n L g" transform="translate(511 707.7)"><use href="#L"/><text x="9.5" y="3.2">Or19</text></g>
<g id="Or16" class="n L g" transform="translate(511 715.3)"><use href="#L"/><text x="9.5" y="3.2">Or16</text></g>
<g id="Ir41p" class="n L o" transform="translate(481 723)"><use href="#L"/><text x="9.5" y="3.2">Ir41p</text></g>
<g id="Or86" class="n R g" transform="translate(466.7 730.3)"><use href="#R"/><text x="-2" y="3.2">Or86</text></g>
<g id="Or87" class="n L g" transform="translate(460 738)"><use href="#L"/><text x="9.5" y="3.2">Or87</text></g>
<g id="Or52" class="n L g" transform="translate(456.7 745.7)"><use href="#L"/><text x="9.5" y="3.2">Or52</text></g>
<g id="Ir76b" class="n R o" transform="translate(668.3 723)"><use href="#R"/><text x="-2" y="3.2">Ir76b</text></g>
<g id="Or102" class="n L g" transform="translate(632.7 730.3)"><use href="#L"/><text x="9.5" y="3.2">Or102</text></g>
<g id="Or72" class="n L g" transform="translate(610 738)"><use href="#L"/><text x="9.5" y="3.2">Or72</text></g>
<g id="Or100" class="n R g" transform="translate(615.7 745.7)"><use href="#R"/><text x="-2" y="3.2">Or100</text></g>
<g id="Gr48" class="n R p" transform="translate(594.3 752.7)"><use href="#R"/><text x="-2" y="3.2">Gr48</text></g>
<g id="Gr75" class="n R p" transform="translate(594.3 760.7)"><use href="#R"/><text x="-2" y="3.2">Gr75</text></g>
</g>
<g id="legend">
<rect x="567.5" y="499" width="15.5" height="12.5" fill="#39b54a"/>
<text class="lg" x="590" y="511.5">Odorant receptors (ORs)</text>
<rect x="567.5" y="524.5" width="15.5" height="12.5" fill="#7e4f9e"/>
<text class="lg" x="590" y="537">Gustatory receptors (GRs)</text>
<rect x="567.5" y="550" width="15.5" height="12.5" fill="#f7941d"/>
<text class="lg" x="590" y="562.5">Ionotropic receptor (IRs)</text>
</g>
<g id="scalebar">
<line x1="710.7" y1="620.7" x2="726.7" y2="620.7" stroke="#111" stroke-width="1.6"/>
<text x="736" y="624.8" font-size="12" fill="#111">10 Mb</text>
</g>
</svg>
